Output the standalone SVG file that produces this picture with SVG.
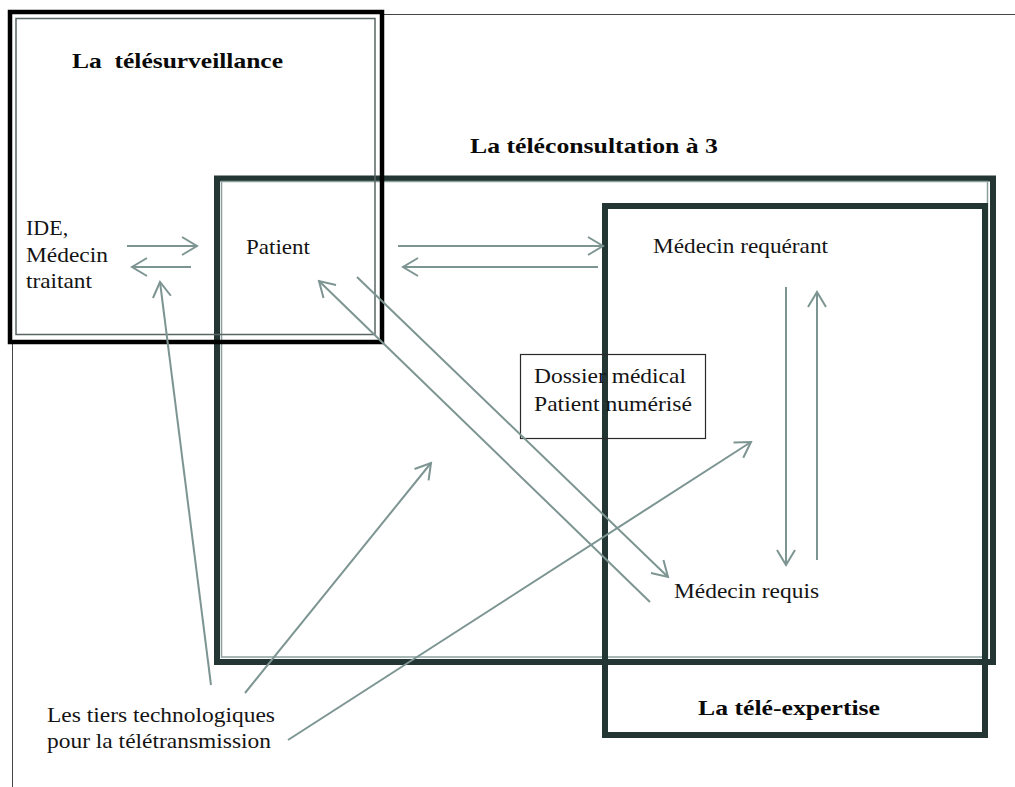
<svg xmlns="http://www.w3.org/2000/svg" width="1015" height="787" viewBox="0 0 1015 787">
<style>
.t{font-family:"Liberation Serif","Times New Roman",serif;font-size:22px;fill:#141414}
.b{font-family:"Liberation Serif","Times New Roman",serif;font-size:22px;font-weight:bold;fill:#0a0a0a}
.ar{fill:none;stroke:#7d9592;stroke-width:2}
.dk{fill:none;stroke:#233633;stroke-width:6}
</style>
<defs>
<marker id="ah" markerUnits="userSpaceOnUse" markerWidth="40" markerHeight="40" refX="20" refY="20" orient="auto" overflow="visible">
<path d="M5,11 L20,20 L5,29" fill="none" stroke="#7d9592" stroke-width="2"/>
</marker>
</defs>
<rect width="1015" height="787" fill="#ffffff"/>
<g id="page">
<line x1="382" y1="14.5" x2="1015" y2="14.5" stroke="#444" stroke-width="1"/>
<line x1="12.5" y1="342" x2="12.5" y2="787" stroke="#444" stroke-width="1"/>
</g>
<g id="teleconsultation">
<rect x="217" y="178.5" width="776" height="483.5" class="dk"/>
<rect x="221.5" y="181.5" width="766" height="475.5" fill="none" stroke="#8aa09d" stroke-width="1.5"/>
<text x="470" y="153" class="b" textLength="248" lengthAdjust="spacingAndGlyphs">La téléconsultation à 3</text>
</g>
<g id="teleexpertise">
<rect x="605" y="206" width="380" height="529" class="dk" stroke="#1f3331"/>
<text x="698" y="715" class="b" textLength="182" lengthAdjust="spacingAndGlyphs">La télé-expertise</text>
</g>
<g id="telesurveillance">
<rect x="10" y="12" width="372" height="330" fill="none" stroke="#000" stroke-width="4.5"/>
<rect x="16" y="18.5" width="359" height="316" fill="none" stroke="#5a6563" stroke-width="1.5"/>
<text x="72" y="68" class="b" textLength="211" lengthAdjust="spacingAndGlyphs" xml:space="preserve">La  télésurveillance</text>
</g>
<g id="dossier">
<rect x="520.5" y="354.5" width="185" height="84" fill="none" stroke="#2a2a2a" stroke-width="1.2"/>
<text x="534" y="383" class="t" textLength="152" lengthAdjust="spacingAndGlyphs">Dossier médical</text>
<text x="534" y="411" class="t" textLength="158" lengthAdjust="spacingAndGlyphs">Patient numérisé</text>
</g>
<g id="ide">
<text x="26" y="235" class="t">IDE,</text>
<text x="26" y="262" class="t" textLength="82" lengthAdjust="spacingAndGlyphs">Médecin</text>
<text x="26" y="288" class="t" textLength="66" lengthAdjust="spacingAndGlyphs">traitant</text>
</g>
<g id="patient">
<text x="246" y="254" class="t" textLength="64" lengthAdjust="spacingAndGlyphs">Patient</text>
</g>
<g id="medecin-requerant">
<text x="653" y="253" class="t" textLength="175" lengthAdjust="spacingAndGlyphs">Médecin requérant</text>
</g>
<g id="medecin-requis">
<text x="674" y="598" class="t" textLength="145" lengthAdjust="spacingAndGlyphs">Médecin requis</text>
</g>
<g id="tiers">
<text x="47" y="722" class="t" textLength="228" lengthAdjust="spacingAndGlyphs">Les tiers technologiques</text>
<text x="47" y="748" class="t" textLength="224" lengthAdjust="spacingAndGlyphs">pour la télétransmission</text>
</g>
<g id="connectors">
<line x1="127" y1="246" x2="197" y2="246" class="ar" marker-end="url(#ah)"/>
<line x1="191" y1="267" x2="132" y2="267" class="ar" marker-end="url(#ah)"/>
<line x1="398" y1="246" x2="603" y2="246" class="ar" marker-end="url(#ah)"/>
<line x1="598" y1="267" x2="403" y2="267" class="ar" marker-end="url(#ah)"/>
<line x1="650" y1="602" x2="319" y2="281" class="ar" marker-end="url(#ah)"/>
<line x1="357" y1="277" x2="668" y2="577" class="ar" marker-end="url(#ah)"/>
<line x1="786" y1="287" x2="786" y2="565" class="ar" marker-end="url(#ah)"/>
<line x1="817" y1="560" x2="817" y2="292" class="ar" marker-end="url(#ah)"/>
<line x1="211" y1="685" x2="160" y2="282" class="ar" marker-end="url(#ah)"/>
<line x1="245" y1="693" x2="431" y2="463" class="ar" marker-end="url(#ah)"/>
<line x1="288" y1="740" x2="751" y2="442" class="ar" marker-end="url(#ah)"/>
</g>
</svg>
